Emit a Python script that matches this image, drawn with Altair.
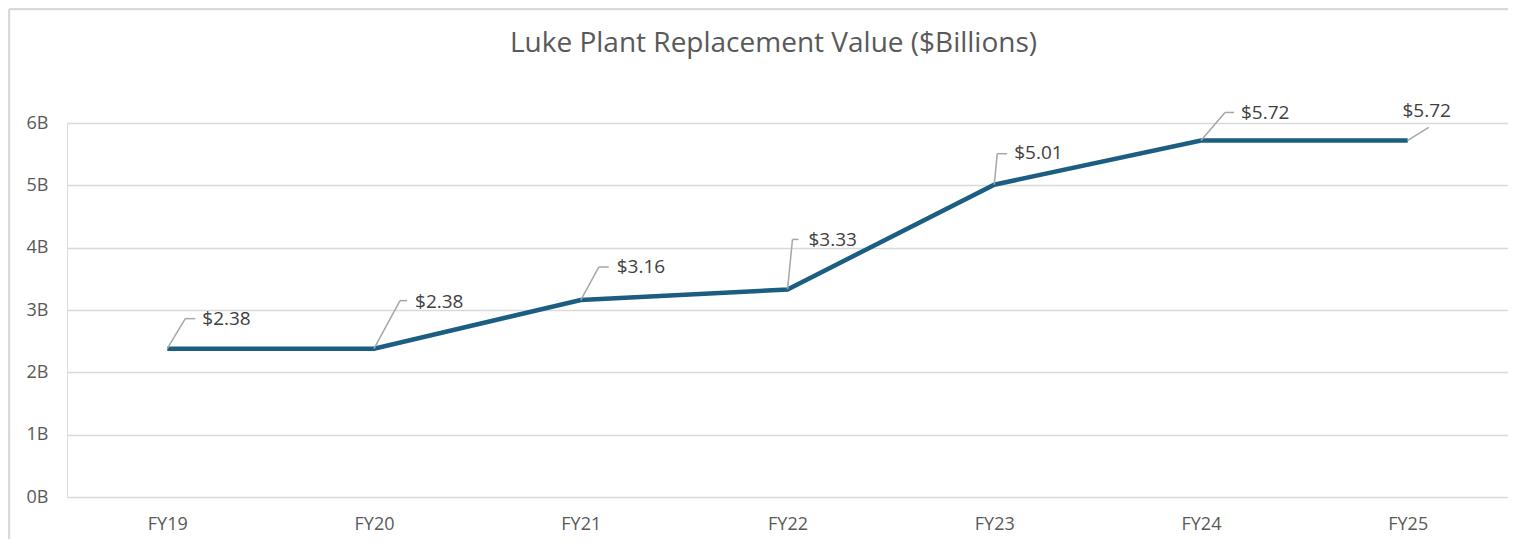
import altair as alt
import pandas as pd

# ---- data ----
years = ["FY19", "FY20", "FY21", "FY22", "FY23", "FY24", "FY25"]
values = [2.38, 2.38, 3.16, 3.33, 5.01, 5.72, 5.72]
y_ticks = [0, 1, 2, 3, 4, 5, 6]

df = pd.DataFrame({"year": years, "value": values})
df["label"] = ["$" + f"{v:.2f}" for v in values]

# ---- styling of data-label leaders (pixel offsets, style only) ----
# (leader dx, leader dy, horizontal length, text dx, text dy, align)
leader_style = {
    "FY19": (18, -30, 10, 35, -30, "left"),
    "FY20": (26, -48, 7, 41, -47, "left"),
    "FY21": (18, -33, 10, 36, -33, "left"),
    "FY22": (5, -50, 6, 21, -49, "left"),
    "FY23": (3, -31, 10, 20, -32, "left"),
    "FY24": (24, -28, 9, 40, -27, "left"),
    "FY25": (21, -13, 0, 19, -29, "center"),
}

FONT = "Open Sans"
LINE_COLOR = "#1b5e82"
LEADER_COLOR = "#a6a6a6"
FRAME_COLOR = "#d9d9d9"

W, H = 1441, 374

x_enc = alt.X(
    "year:N",
    sort=years,
    scale=alt.Scale(type="point", padding=0.485),
    axis=alt.Axis(
        title=None, labelAngle=0, ticks=False, domain=False, grid=False,
        labelFont=FONT, labelFontSize=18, labelColor="#595959", labelPadding=18,
    ),
)
y_enc = alt.Y(
    "value:Q",
    scale=alt.Scale(domain=[0, 6], nice=False, zero=True),
    axis=alt.Axis(
        title=None, values=y_ticks, ticks=False, domain=False,
        labelExpr="datum.value + 'B'",
        labelFont=FONT, labelFontSize=18, labelColor="#595959", labelPadding=19,
        gridColor="#d9d9d9", gridWidth=1.5,
    ),
)

base = alt.Chart(df)
one = base.transform_filter(alt.datum.year == "FY19")

# outer chart frame (left and top edges only are visible in the reference)
frame_left = one.mark_rule(color=FRAME_COLOR, strokeWidth=2.5).encode(
    x=alt.value(-58), y=alt.value(-114), y2=alt.value(H + 60)
)
frame_top = one.mark_rule(color=FRAME_COLOR, strokeWidth=2.5).encode(
    x=alt.value(-58), x2=alt.value(W + 10), y=alt.value(-114)
)

line = base.mark_line(color=LINE_COLOR, strokeWidth=4.5).encode(x=x_enc, y=y_enc)

layers = [frame_left, frame_top, line]
for yr, (ldx, ldy, hlen, tdx, tdy, al) in leader_style.items():
    sub = base.transform_filter(alt.datum.year == yr)
    diag = sub.mark_rule(
        color=LEADER_COLOR, strokeWidth=1.5, x2Offset=ldx, y2Offset=ldy
    ).encode(
        x=alt.X("year:N", sort=years), y="value:Q",
        x2="year:N", y2="value:Q",
    )
    layers.append(diag)
    if hlen > 0:
        horiz = sub.mark_rule(
            color=LEADER_COLOR, strokeWidth=1.5,
            xOffset=ldx, x2Offset=ldx + hlen, yOffset=ldy, y2Offset=ldy,
        ).encode(
            x=alt.X("year:N", sort=years), y="value:Q",
            x2="year:N", y2="value:Q",
        )
        layers.append(horiz)
    txt = sub.mark_text(
        dx=tdx, dy=tdy, align=al, baseline="middle",
        font=FONT, fontSize=19, color="#404040",
    ).encode(x=alt.X("year:N", sort=years), y="value:Q", text="label:N")
    layers.append(txt)

chart = alt.layer(*layers).properties(
    width=W,
    height=H,
    title=alt.TitleParams(
        "Luke Plant Replacement Value ($Billions)",
        font=FONT, fontSize=28, fontWeight="normal", color="#595959",
        anchor="middle", dx=-14, offset=-50, frame="group",
    ),
    autosize=alt.AutoSizeParams(type="none"),
    padding={"left": 59, "top": 115, "right": 0, "bottom": 42},
).configure_view(stroke=None).configure(background="white")

chart.save("out.html", embed_options={"renderer": "svg", "actions": False})
